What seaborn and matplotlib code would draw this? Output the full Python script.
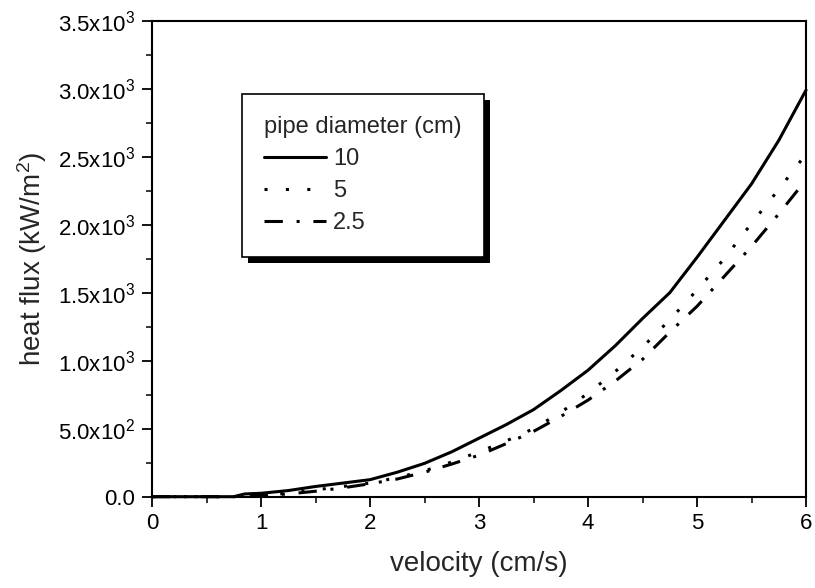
import matplotlib
matplotlib.use("Agg")
import matplotlib.pyplot as plt
from matplotlib.patches import Rectangle
import seaborn as sns
import numpy as np

# velocity (cm/s) and heat flux (kW/m^2)
velocity = [0.0, 0.25, 0.5, 0.75, 0.85, 1.0, 1.25, 1.5, 1.75, 2.0, 2.25, 2.5, 2.75,
            3.0, 3.25, 3.5, 3.75, 4.0, 4.25, 4.5, 4.75, 5.0, 5.25, 5.5, 5.75, 6.0]
flux_10 = [0, 0, 0, 0, 20, 25, 45, 75, 100, 125, 180, 245, 330,
           430, 530, 640, 780, 930, 1110, 1310, 1500, 1760, 2030, 2300, 2620, 2990]
flux_5 = [0, 0, 0, 0, 5, 10, 25, 50, 75, 100, 140, 190, 255,
          330, 410, 500, 620, 760, 920, 1100, 1300, 1520, 1750, 2010, 2260, 2520]
flux_2_5 = [0, 0, 0, 0, 4, 8, 20, 40, 65, 95, 130, 180, 240,
            305, 390, 480, 590, 710, 850, 1010, 1210, 1400, 1620, 1840, 2080, 2330]

series_labels = ["10", "5", "2.5"]
legend_title = "pipe diameter (cm)"

x_ticks = [0, 1, 2, 3, 4, 5, 6]
y_ticks = [0, 500, 1000, 1500, 2000, 2500, 3000, 3500]
y_tick_labels = ["0.0", "5.0x10$^2$", "1.0x10$^3$", "1.5x10$^3$", "2.0x10$^3$",
                 "2.5x10$^3$", "3.0x10$^3$", "3.5x10$^3$"]

sns.set_style("ticks")
plt.rcParams["font.family"] = ["Liberation Sans", "DejaVu Sans"]
plt.rcParams["mathtext.default"] = "regular"

fig = plt.figure(figsize=(8.15, 5.88), dpi=100)
ax = fig.add_axes([0.1865, 0.1553, 0.8025, 0.8095])

styles = ["-", (0, (1.0, 6.0)), (0, (6.0, 4.5, 1.0, 4.5))]
for ys, lab, ls in zip([flux_10, flux_5, flux_2_5], series_labels, styles):
    sns.lineplot(x=velocity, y=ys, ax=ax, color="black", lw=2.2,
                 linestyle=ls, label=lab, clip_on=False)

ax.set_xlim(0, 6)
ax.set_ylim(0, 3500)
ax.set_xticks(x_ticks)
ax.set_xticks(np.arange(0.5, 6, 1), minor=True)
ax.set_yticks(y_ticks, y_tick_labels)
ax.set_yticks(np.arange(250, 3500, 500), minor=True)
ax.tick_params(which="major", direction="out", length=7, width=1.3,
               labelsize=16, pad=5, colors="black")
ax.tick_params(which="minor", direction="out", length=4.5, width=1.3)
for s in ax.spines.values():
    s.set_linewidth(1.5)
    s.set_color("black")

ax.set_xlabel("velocity (cm/s)", fontsize=20, labelpad=12)
ax.set_ylabel("heat flux (kW/m$^2$)", fontsize=20, labelpad=7)

leg = ax.legend(title=legend_title, loc="upper left",
                bbox_to_anchor=(0.1376, 0.846), borderaxespad=0,
                fontsize=17, title_fontsize=17, alignment="left",
                handlelength=2.6, handletextpad=0.3, labelspacing=0.42,
                borderpad=0.95, frameon=True, fancybox=False, framealpha=1)
leg.get_frame().set_edgecolor("black")
leg.get_frame().set_linewidth(1.2)

# offset black shadow behind the legend box
fig.canvas.draw()
bb = leg.get_frame().get_window_extent(fig.canvas.get_renderer())
shadow = Rectangle((bb.x0 + 6, bb.y0 - 6), bb.width, bb.height, transform=None,
                   facecolor="black", edgecolor="none", zorder=leg.get_zorder() - 0.5)
ax.add_artist(shadow)

fig.savefig("out.png", dpi=100)
